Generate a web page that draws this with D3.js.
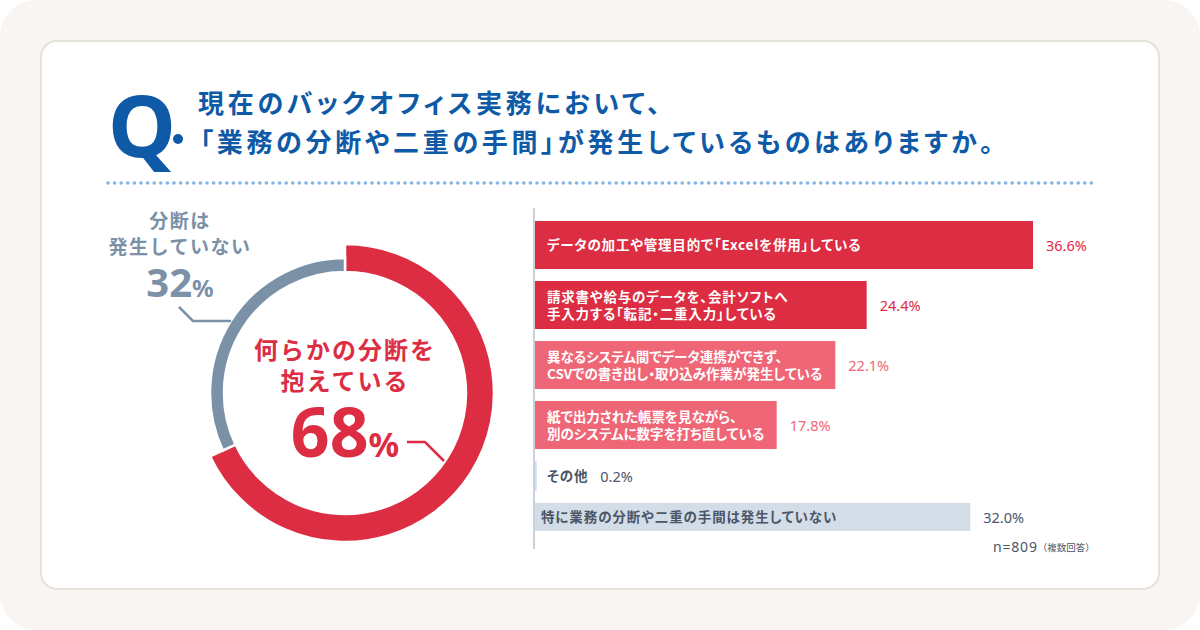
<!DOCTYPE html>
<html><head><meta charset="utf-8">
<script src="https://cdn.jsdelivr.net/npm/d3@7/dist/d3.min.js"></script>
<style>
html,body{margin:0;padding:0;background:#fff;}
svg{display:block;font-family:"Noto Sans CJK JP","Noto Sans",sans-serif;}
.p{font-feature-settings:"palt" 1;}
</style></head>
<body>
<svg id="c" width="1200" height="630"></svg>
<script>
// ---- data ----
const titleLines = ["現在のバックオフィス実務において、", "「業務の分断や二重の手間」が発生しているものはありますか。"];
const donutLabels = ["何らかの分断を抱えている", "分断は発生していない"];
const donutValues = [68, 32];
const categories = [
  "データの加工や管理目的で「Excelを併用」している",
  "請求書や給与のデータを、会計ソフトへ\n手入力する「転記・二重入力」している",
  "異なるシステム間でデータ連携ができず、\nCSVでの書き出し・取り込み作業が発生している",
  "紙で出力された帳票を見ながら、\n別のシステムに数字を打ち直している",
  "その他",
  "特に業務の分断や二重の手間は発生していない"
];
const values = [36.6, 24.4, 22.1, 17.8, 0.2, 32.0];
const sampleNote = ["n=809", "（複数回答）"];

// ---- styles / layout ----
const RED = "#dc2d43", PINK = "#ef6677", GRAY = "#7b91a8", LIGHT = "#d3dde8", DARK = "#4b5566", BLUE = "#0e5aa7";
const barFill = [RED, RED, PINK, PINK, LIGHT, LIGHT];
const valFill = [RED, RED, PINK, PINK, DARK, DARK];
const rowH = [48, 48, 48, 48, 30, 28];
const labelSpacing = [0.8, 0.8, 0, 0, 0.8, 0.9];
const rowGap = 12;

const svg = d3.select("#c");

// background
svg.append("rect").attr("x",0).attr("y",0).attr("width",1200).attr("height",630).attr("rx",36).attr("fill","#f8f5f2");
svg.append("rect").attr("x",41).attr("y",41).attr("width",1118).attr("height",548).attr("rx",16)
  .attr("fill","#fff").attr("stroke","#e7e1db").attr("stroke-width",2);

// title
svg.append("text").attr("x",108).attr("y",157).attr("font-size",86).attr("font-weight",700)
  .attr("fill",BLUE).attr("font-family","'Noto Sans','Noto Sans CJK JP',sans-serif").text("Q");
svg.append("circle").attr("cx",178).attr("cy",139).attr("r",5).attr("fill",BLUE);
const titleX = [198, 200], titleY = [113, 152], titleW = [462, 793];
titleLines.forEach((t,i)=>{
  svg.append("text").attr("class","p").attr("x", titleX[i]).attr("y", titleY[i])
    .attr("font-size",26).attr("font-weight",700)
    .attr("textLength", titleW[i]).attr("lengthAdjust","spacing")
    .attr("fill",BLUE).text(t);
});
// dotted rule
svg.append("line").attr("x1",108).attr("x2",1093).attr("y1",183).attr("y2",183)
  .attr("stroke","#7fb4e6").attr("stroke-width",3.6).attr("stroke-linecap","round")
  .attr("stroke-dasharray","0 6.6");

// ---- donut ----
const cx = 345, cy = 393;
const pie = d3.pie().sort(null).value(d=>d)(donutValues);
const radii = [[121,149],[121,135]];
const g = svg.append("g").attr("transform",`translate(${cx},${cy})`);
g.selectAll("path").data(pie).join("path")
  .attr("d",(d,i)=>d3.arc().innerRadius(radii[i][0]).outerRadius(radii[i][1])(d))
  .attr("fill",(d,i)=>i===0?RED:GRAY)
  .attr("stroke","#fff").attr("stroke-width",2.5);

// leader lines
svg.append("path").attr("d","M179,307 L193,321 L231,321").attr("fill","none").attr("stroke",GRAY).attr("stroke-width",2.5);
svg.append("path").attr("d","M407,442 L425,442 L444,461").attr("fill","none").attr("stroke",RED).attr("stroke-width",2.5);

// gray label
const gl = svg.append("g").attr("fill",GRAY).attr("font-weight",700).attr("text-anchor","middle");
gl.append("text").attr("x",180).attr("y",228).attr("font-size",19).attr("letter-spacing",1.5).text(donutLabels[1].slice(0,3));
gl.append("text").attr("x",180).attr("y",254).attr("font-size",19).attr("letter-spacing",1.5).text(donutLabels[1].slice(3));
const gp = gl.append("text").attr("x",180).attr("y",297).attr("font-family","'Noto Sans',sans-serif");
gp.append("tspan").attr("font-size",40).text(donutValues[1]);
gp.append("tspan").attr("font-size",24).text("%");

// red label
const rl = svg.append("g").attr("fill",RED).attr("font-weight",700).attr("text-anchor","middle");
rl.append("text").attr("x",345).attr("y",359).attr("font-size",24).attr("letter-spacing",2).text(donutLabels[0].slice(0,7));
rl.append("text").attr("x",345).attr("y",390).attr("font-size",24).attr("letter-spacing",2).text(donutLabels[0].slice(7));
const rp = rl.append("text").attr("x",345).attr("y",457).attr("font-family","'Noto Sans',sans-serif");
rp.append("tspan").attr("font-size",68).text(donutValues[0]);
rp.append("tspan").attr("font-size",34).text("%");

// ---- bars ----
const x0 = 534;
const x = d3.scaleLinear().domain([0, 36.6]).range([x0, 1033]);
const tops = [];
rowH.reduce((acc,h)=>{tops.push(acc); return acc+h+rowGap;}, 221);

svg.append("line").attr("x1",x0).attr("x2",x0).attr("y1",208).attr("y2",549)
  .attr("stroke","#c9d2dc").attr("stroke-width",2);

const rows = svg.append("g").selectAll("g").data(categories).join("g");
rows.append("rect")
  .attr("x",x0+1).attr("y",(d,i)=>tops[i])
  .attr("width",(d,i)=>Math.max(0,x(values[i])-x0-1)).attr("height",(d,i)=>rowH[i])
  .attr("fill",(d,i)=>barFill[i]);

rows.each(function(d,i){
  const lines = d.split("\n");
  const cyr = tops[i] + rowH[i]/2;
  const lh = 17;
  let lastW = 0;
  lines.forEach((ln,k)=>{
    const t = d3.select(this).append("text").attr("class","p")
      .attr("x", i===5?541:547)
      .attr("y", cyr + (k-(lines.length-1)/2)*lh + 5)
      .attr("font-size",13.5).attr("font-weight",700)
      .attr("letter-spacing", labelSpacing[i])
      .attr("fill", i<4 ? "#fff" : DARK)
      .text(ln);
    lastW = t.node().getComputedTextLength();
  });
  const vx = i === 4 ? 547 + lastW + 12 : x(values[i]) + 13;
  d3.select(this).append("text").attr("x",vx).attr("y",cyr+5.5)
    .attr("font-size",14.5).attr("fill",valFill[i])
    .attr("font-family","'Noto Sans','Noto Sans CJK JP',sans-serif")
    .text(values[i].toFixed(1)+"%");
});

// sample note
const nt = svg.append("text").attr("x",993).attr("y",552).attr("fill",DARK);
nt.append("tspan").attr("font-size",14).attr("letter-spacing",0.8).attr("font-family","'Noto Sans',sans-serif").text(sampleNote[0]);
nt.append("tspan").attr("font-size",9.5).attr("dy",-1).text(sampleNote[1]);
</script>
</body></html>
